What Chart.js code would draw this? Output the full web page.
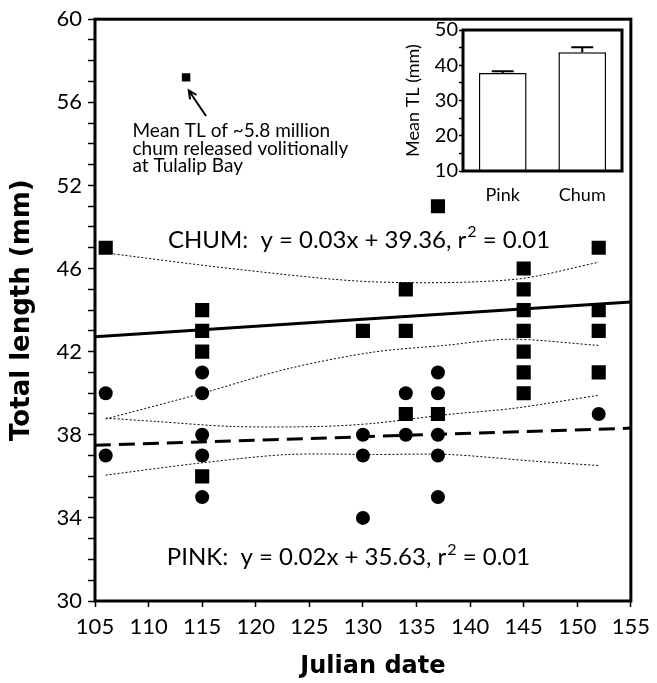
<!DOCTYPE html>
<html>
<head>
<meta charset="utf-8">
<script src="https://cdn.jsdelivr.net/npm/chart.js@4"></script>
<style>
  body { margin: 0; background: #fff; }
  #wrap { position: relative; width: 657px; height: 683px; }
  #mainChart { position: absolute; left: 0; top: 0; }
  #insetChart { position: absolute; left: 395px; top: 17px; }
</style>
</head>
<body>
<div id="wrap">
  <canvas id="mainChart" width="657" height="683"></canvas>
  <canvas id="insetChart" width="235" height="190"></canvas>
</div>
<script>
// main plot data, Julian date vs total length (mm)
const chumDays = [106, 115, 115, 115, 115, 130, 134, 134, 134, 137, 137, 145, 145, 145, 145, 145, 145, 145, 152, 152, 152, 152];
const chumTL   = [47, 44, 43, 42, 36, 43, 45, 43, 39, 49, 39, 46, 45, 44, 43, 42, 41, 40, 47, 44, 43, 41];
const pinkDays = [106, 106, 115, 115, 115, 115, 115, 130, 130, 130, 134, 134, 137, 137, 137, 137, 137, 152];
const pinkTL   = [40, 37, 41, 40, 38, 37, 35, 38, 37, 34, 40, 38, 41, 40, 38, 37, 35, 39];
const releaseDay = [113.5];
const releaseTL  = [55.2];

// regression lines (end points)
const fitDays = [105, 155];
const chumFit = [42.72, 44.39];
const pinkFit = [37.49, 38.32];

// dotted confidence bands
const chumUpperDays = [106, 118.5, 131, 144, 152];
const chumUpper     = [46.75, 45.95, 45.36, 45.47, 46.3];
const chumLowerDays = [106, 115, 123, 131, 137.6, 143.8, 152];
const chumLower     = [38.76, 40.0, 41.18, 41.98, 42.3, 42.6, 42.3];
const pinkUpperDays = [106, 110.7, 117.8, 126, 131, 138, 144, 152];
const pinkUpper     = [38.8, 38.64, 38.4, 38.4, 38.55, 38.98, 39.27, 39.9];
const pinkLowerDays = [106, 115, 123, 131, 138, 146, 152];
const pinkLower     = [36.06, 36.65, 37.05, 37.05, 37.05, 36.73, 36.52];

// y tick labels as printed on the figure
const yTickValues = [30, 34, 38, 42, 46, 50, 54, 58];
const yTickLabels = ['30', '34', '38', '42', '46', '52', '56', '60'];

// inset
const insetLabels = ['Pink', 'Chum'];
const insetMeans  = [37.8, 43.7];
const insetErrors = [0.5, 1.4];

const tickFont = { family: 'Lato', size: 22 };

function pts(xs, ys) {
  return xs.map((x, i) => ({ x: x, y: ys[i] }));
}

function lineSet(xs, ys, width, dash) {
  return {
    type: 'line',
    data: pts(xs, ys),
    borderColor: '#000',
    borderWidth: width,
    borderDash: dash,
    pointRadius: 0,
    tension: 0.3,
    fill: false
  };
}

// equation text with a raised "2" after r
function equation(ctx, head, tail, px, py) {
  ctx.font = '24px Lato';
  ctx.fillText(head + 'r', px, py);
  let w = ctx.measureText(head + 'r').width;
  ctx.font = '16px Lato';
  ctx.fillText('2', px + w + 1, py - 8);
  w += ctx.measureText('2').width + 1;
  ctx.font = '24px Lato';
  ctx.fillText(tail, px + w, py);
}

const mainDecor = {
  id: 'mainDecor',
  afterDraw(chart) {
    const { ctx, chartArea: a, scales: { x, y } } = chart;
    ctx.save();
    ctx.strokeStyle = '#000';
    ctx.lineWidth = 3;
    ctx.strokeRect(a.left, a.top, a.right - a.left, a.bottom - a.top);

    ctx.fillStyle = '#000';
    ctx.textBaseline = 'middle';
    ctx.textAlign = 'left';
    equation(ctx, 'CHUM:  y = 0.03x + 39.36, ', ' = 0.01', x.getPixelForValue(111.8), y.getPixelForValue(47.37));
    equation(ctx, 'PINK:  y = 0.02x + 35.63, ', ' = 0.01', x.getPixelForValue(111.7), y.getPixelForValue(32.1));

    ctx.font = '19px Lato';
    ctx.textBaseline = 'alphabetic';
    const nx = x.getPixelForValue(108.5);
    const ny = y.getPixelForValue(53.0);
    ['Mean TL of ~5.8 million', 'chum released volitionally', 'at Tulalip Bay'].forEach((t, i) => {
      ctx.fillText(t, nx, ny + 14 + i * 17.5);
    });

    // arrow to the release point
    const tx = x.getPixelForValue(115.36), ty = y.getPixelForValue(53.34);
    const hx = x.getPixelForValue(113.75), hy = y.getPixelForValue(54.57);
    const ang = Math.atan2(hy - ty, hx - tx);
    ctx.lineWidth = 2;
    ctx.beginPath();
    ctx.moveTo(tx, ty);
    ctx.lineTo(hx, hy);
    ctx.moveTo(hx - 9 * Math.cos(ang - 0.45), hy - 9 * Math.sin(ang - 0.45));
    ctx.lineTo(hx, hy);
    ctx.lineTo(hx - 9 * Math.cos(ang + 0.45), hy - 9 * Math.sin(ang + 0.45));
    ctx.stroke();

    // axis titles
    ctx.font = 'bold 24px "DejaVu Sans"';
    ctx.textAlign = 'center';
    ctx.textBaseline = 'middle';
    ctx.fillText('Julian date', (a.left + a.right) / 2 + 10, 667);
    ctx.save();
    ctx.translate(22, (a.top + a.bottom) / 2);
    ctx.rotate(-Math.PI / 2);
    ctx.font = 'bold 26px "DejaVu Sans"';
    ctx.fillText('Total length (mm)', 0, 0);
    ctx.restore();
    ctx.restore();
  }
};

new Chart(document.getElementById('mainChart'), {
  type: 'scatter',
  data: {
    datasets: [
      { data: pts(chumDays, chumTL), pointStyle: 'rect', pointRadius: 10, backgroundColor: '#000', borderWidth: 0 },
      { data: pts(pinkDays, pinkTL), pointStyle: 'circle', pointRadius: 7, backgroundColor: '#000', borderWidth: 0 },
      { data: pts(releaseDay, releaseTL), pointStyle: 'rect', pointRadius: 6, backgroundColor: '#000', borderWidth: 0 },
      lineSet(fitDays, chumFit, 3, []),
      lineSet(fitDays, pinkFit, 3, [16, 8]),
      lineSet(chumUpperDays, chumUpper, 1, [2, 2]),
      lineSet(chumLowerDays, chumLower, 1, [2, 2]),
      lineSet(pinkUpperDays, pinkUpper, 1, [2, 2]),
      lineSet(pinkLowerDays, pinkLower, 1, [2, 2])
    ]
  },
  options: {
    responsive: false,
    animation: false,
    layout: { padding: { top: 14, right: 23, left: 0, bottom: 0 } },
    plugins: { legend: { display: false }, tooltip: { enabled: false } },
    scales: {
      x: {
        type: 'linear', min: 105, max: 155,
        afterFit(s) { s.height = 82; },
        border: { display: false },
        grid: { drawOnChartArea: false, drawTicks: true, tickLength: 6, tickColor: '#000', tickWidth: 1.5 },
        ticks: { stepSize: 5, color: '#000', font: tickFont, padding: 7, maxRotation: 0 }
      },
      y: {
        type: 'linear', min: 30, max: 58,
        afterFit(s) { s.width = 95; },
        border: { display: false },
        grid: { drawOnChartArea: false, drawTicks: true, tickLength: 7, tickColor: '#000', tickWidth: 1.5 },
        ticks: {
          stepSize: 1, autoSkip: false, color: '#000', font: tickFont, padding: 6,
          callback: v => {
            const i = yTickValues.indexOf(v);
            return i >= 0 ? yTickLabels[i] : '';
          }
        }
      }
    }
  },
  plugins: [mainDecor]
});

const insetDecor = {
  id: 'insetDecor',
  afterDatasetsDraw(chart) {
    const { ctx, chartArea: a, scales: { y } } = chart;
    const meta = chart.getDatasetMeta(0);
    ctx.save();
    ctx.strokeStyle = '#000';
    ctx.lineWidth = 2;
    meta.data.forEach((bar, i) => {
      const top = y.getPixelForValue(insetMeans[i] + insetErrors[i]);
      ctx.beginPath();
      ctx.moveTo(bar.x, bar.y);
      ctx.lineTo(bar.x, top);
      ctx.moveTo(bar.x - 11, top);
      ctx.lineTo(bar.x + 11, top);
      ctx.stroke();
    });
    ctx.lineWidth = 3;
    ctx.strokeRect(a.left, a.top, a.right - a.left, a.bottom - a.top);
    ctx.fillStyle = '#000';
    ctx.font = '18px Lato';
    ctx.textAlign = 'center';
    ctx.textBaseline = 'middle';
    ctx.translate(18, (a.top + a.bottom) / 2);
    ctx.rotate(-Math.PI / 2);
    ctx.fillText('Mean TL (mm)', 0, 0);
    ctx.restore();
  }
};

new Chart(document.getElementById('insetChart'), {
  type: 'bar',
  data: {
    labels: insetLabels,
    datasets: [{
      data: insetMeans,
      backgroundColor: '#fff',
      borderColor: '#000',
      borderWidth: 1.5,
      barPercentage: 0.6,
      categoryPercentage: 1
    }]
  },
  options: {
    responsive: false,
    animation: false,
    layout: { padding: { top: 12, right: 8, left: 0, bottom: 0 } },
    plugins: { legend: { display: false }, tooltip: { enabled: false } },
    scales: {
      x: {
        afterFit(s) { s.height = 36; },
        border: { display: false },
        grid: { display: false },
        ticks: { color: '#000', font: { family: 'Lato', size: 18 }, padding: 5 }
      },
      y: {
        min: 10, max: 50,
        afterFit(s) { s.width = 68; },
        border: { display: false },
        grid: { drawOnChartArea: false, drawTicks: true, tickLength: 4, tickColor: '#000', tickWidth: 1.5 },
        ticks: {
          stepSize: 5, autoSkip: false, color: '#000', font: { family: 'Lato', size: 20 }, padding: 1,
          callback: v => (v % 10 === 0 ? String(v) : '')
        }
      }
    }
  },
  plugins: [insetDecor]
});
</script>
</body>
</html>
